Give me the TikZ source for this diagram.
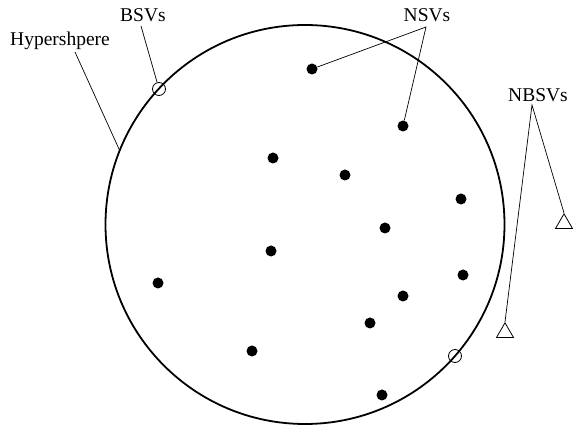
\documentclass[tikz,border=0pt]{standalone}
\usepackage{fontspec}
\setmainfont{Liberation Serif}
\usetikzlibrary{shapes.geometric}
\begin{document}
\begin{tikzpicture}[x=1pt,y=-1pt,
  sv/.style={circle,fill=black,inner sep=0pt,minimum size=11pt},
  bsv/.style={circle,draw,line width=0.8pt,inner sep=0pt,minimum size=13pt},
  nbsv/.style={regular polygon,regular polygon sides=3,draw,line width=0.8pt,inner sep=0pt,minimum size=19.6pt},
  lab/.style={font=\fontsize{19.5}{21}\selectfont,inner sep=1pt},
  lead/.style={line width=0.7pt}]
\useasboundingbox (0,0) rectangle (579,427);
\node (sphere) [circle,draw,line width=1.8pt,inner sep=0pt,minimum size=399pt] at (305,224.5) {};
% labels
\node (lbsv) [lab] at (143,15) {BSVs};
\node (lhyp) [lab] at (60,41) {Hypershpere};
\node (lnsv) [lab] at (427,15) {NSVs};
\node (lnbsv) [lab] at (538,95) {NBSVs};
\coordinate (chyp) at (75,52);
\coordinate (cbsv) at (141,26);
\coordinate (cnsv) at (426,27);
\coordinate (cnbsv) at (532,105);
% dots
\node (d1) [sv] at (312,69) {};
\node (d2) [sv] at (403,126) {};
\node (d3) [sv] at (273,158) {};
\node (d4) [sv] at (345,175) {};
\node (d5) [sv] at (461,199) {};
\node (d6) [sv] at (385,228) {};
\node (d7) [sv] at (271,251) {};
\node (d8) [sv] at (463,275) {};
\node (d9) [sv] at (158,283) {};
\node (d10) [sv] at (403,296) {};
\node (d11) [sv] at (370,323) {};
\node (d12) [sv] at (252,351) {};
\node (d13) [sv] at (382,395) {};
% boundary SVs
\node (b1) [bsv] at (159,89) {};
\node (b2) [bsv] at (455,356) {};
% non-boundary SVs
\node (t1) [nbsv,anchor=corner 1] at (564,213) {};
\node (t2) [nbsv,anchor=corner 1] at (505,322) {};
% leaders
\draw[lead] (chyp) -- (sphere.158);
\draw[lead] (cbsv) -- (b1);
\draw[lead] (d1) -- (cnsv) -- (d2);
\draw[lead] (t2.corner 1) -- (cnbsv) -- (t1.corner 1);
\end{tikzpicture}
\end{document}
